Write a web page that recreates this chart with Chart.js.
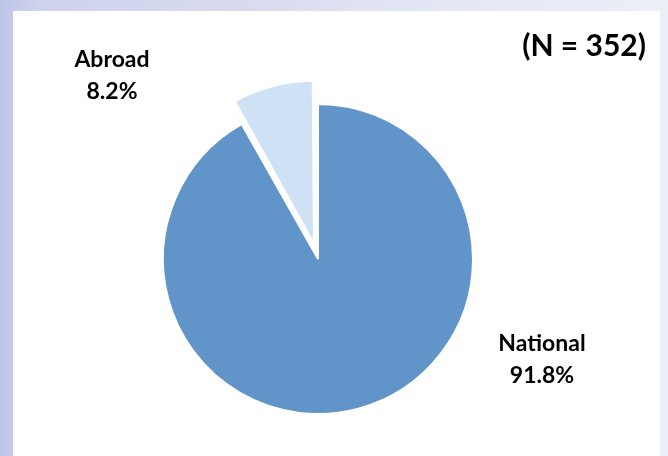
<!DOCTYPE html>
<html>
<head>
<meta charset="utf-8">
<script src="https://cdn.jsdelivr.net/npm/chart.js@4"></script>
<style>
  html, body { margin: 0; padding: 0; }
  body {
    width: 668px; height: 456px; overflow: hidden; position: relative;
    background:
      linear-gradient(90deg, rgba(190,196,230,1) 0px, rgba(196,202,234,1) 14px, rgba(210,214,238,0.0) 40px),
      linear-gradient(90deg, #cdd1ec 0%, #d9dcf0 40%, #e6e9f5 70%, #eceff7 100%);
  }
  #panel {
    position: absolute; left: 13px; top: 11px; width: 647px; height: 445px;
    background: #ffffff;
  }
  #wrap { position: absolute; left: 0; top: 0; width: 668px; height: 456px; }
</style>
</head>
<body>
<div id="panel"></div>
<div id="wrap"><canvas id="chart" width="668" height="456"></canvas></div>
<script>
// Origin of respondents
const categories = ['National', 'Abroad'];
const shares = [91.8, 8.2];
const sampleSize = 352;
const sliceColors = ['#6194C8', '#CFE1F4'];
const sliceOffsets = [0, 63];

// Category + percentage labels and the sample-size note
const labelPlugin = {
  id: 'pieLabels',
  afterDraw(chart, args, opts) {
    const ctx = chart.ctx;
    ctx.save();
    ctx.fillStyle = '#000000';
    ctx.textAlign = 'center';
    ctx.textBaseline = 'alphabetic';
    ctx.font = 'bold 23px Lato, "Open Sans", sans-serif';
    const values = chart.data.datasets[0].data;
    chart.data.labels.forEach((name, i) => {
      const p = opts.positions[i];
      ctx.fillText(name, p.x, p.y);
      ctx.fillText(values[i].toFixed(1) + '%', p.x, p.y + 32);
    });
    ctx.font = 'bold 30px Lato, "Open Sans", sans-serif';
    ctx.textAlign = 'right';
    ctx.fillText('(N = ' + sampleSize + ')', opts.noteX, opts.noteY);
    ctx.restore();
  }
};

new Chart(document.getElementById('chart'), {
  type: 'pie',
  data: {
    labels: categories,
    datasets: [{
      data: shares,
      backgroundColor: sliceColors,
      borderColor: '#ffffff',
      borderWidth: 2,
      offset: sliceOffsets,
      radius: 155
    }]
  },
  options: {
    responsive: false,
    animation: false,
    rotation: 0,
    layout: { padding: { left: 0, right: 32, top: 62, bottom: 0 } },
    plugins: {
      legend: { display: false },
      tooltip: { enabled: false },
      pieLabels: {
        positions: [{ x: 542, y: 351 }, { x: 112, y: 67 }],
        noteX: 646, noteY: 56
      }
    }
  },
  plugins: [labelPlugin]
});
</script>
</body>
</html>
